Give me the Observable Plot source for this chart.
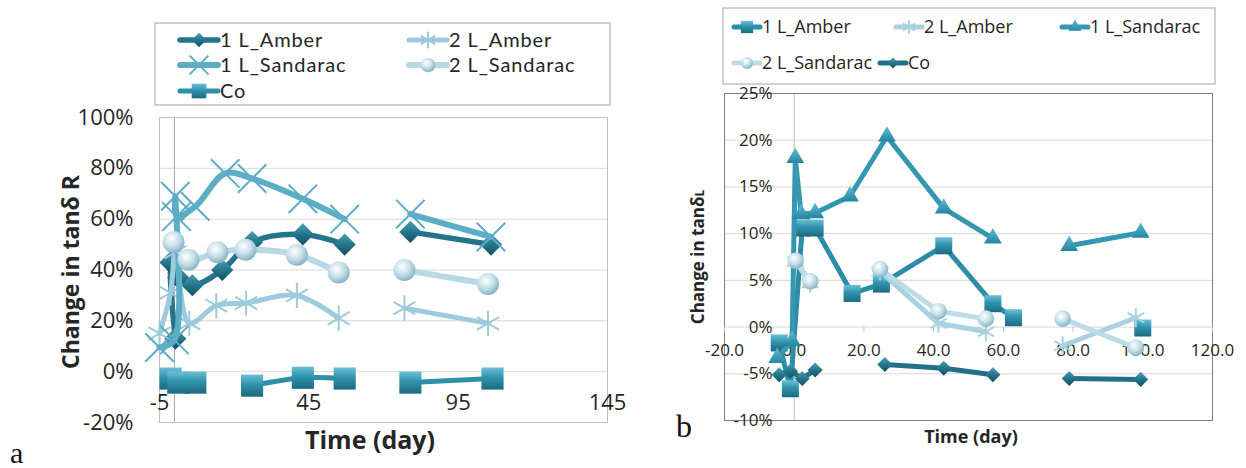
<!DOCTYPE html>
<html><head><meta charset="utf-8">
<script src="https://cdn.jsdelivr.net/npm/d3@7"></script>
<script src="https://cdn.jsdelivr.net/npm/@observablehq/plot@0.6"></script>
<style>
body{margin:0;background:#fff;}
#root{position:relative;width:1246px;height:468px;overflow:hidden;font-family:"Open Sans",sans-serif;}
#root > svg{position:absolute;}
</style></head><body>
<svg width="0" height="0" style="position:absolute">
  <defs>
    <linearGradient id="gSq" x1="0" y1="0" x2="0" y2="1">
      <stop offset="0" stop-color="#6cc0d6"/><stop offset="0.45" stop-color="#2f93ad"/><stop offset="1" stop-color="#1c6a80"/>
    </linearGradient>
    <linearGradient id="gDia" x1="0" y1="0" x2="0" y2="1">
      <stop offset="0" stop-color="#4f9fb5"/><stop offset="0.5" stop-color="#23768d"/><stop offset="1" stop-color="#134f61"/>
    </linearGradient>
    <linearGradient id="gTri" x1="0" y1="0" x2="0" y2="1">
      <stop offset="0" stop-color="#5fbcd4"/><stop offset="1" stop-color="#2584a0"/>
    </linearGradient>
    <radialGradient id="gSph" cx="0.4" cy="0.35" r="0.65">
      <stop offset="0" stop-color="#ffffff"/><stop offset="0.55" stop-color="#c6dfe9"/><stop offset="1" stop-color="#86b3c5"/>
    </radialGradient>
  </defs>
</svg>
<div id="root"></div>
<script>
// ---------- Panel a data (Time in days, change in tanδ R in %) ----------
const aXTicks = [-5, 45, 95, 145];
const aYTicks = [-20, 0, 20, 40, 60, 80, 100];
const a1LAmberDay = [0.3, -1.3, 1.3, 6, 16, 26, 43, 57, null, 79, 106];
const a1LAmberVal = [13, 43, 37, 34, 40, 51, 54, 50, null, 55, 50];
const a2LAmberDay = [-5, -1.3, 0.3, 5, 14, 24, 41, 55, null, 77, 105];
const a2LAmberVal = [15, 31, 47, 19, 26, 27, 30, 21, null, 25, 19];
const a1LSandDay = [-5, 0, 0.3, 0.7, 7, 17, 26, 43, 57, null, 79, 106];
const a1LSandVal = [9.5, 12.5, 69, 61, 65, 78, 76, 68, 60, null, 62, 53];
const a2LSandDay = [-0.3, 4.7, 14.4, 23.8, 41, 55, null, 77, 105];
const a2LSandVal = [51, 44, 47, 48, 46, 39, null, 40, 34.5];
const aCoDay = [-1.3, 1.3, 7, null, 26, 43, 57, null, 79, 106.5];
const aCoVal = [-2.7, -4.3, -4.3, null, -5.5, -2.4, -2.7, null, -4.3, -2.7];

// ---------- Panel b data (Time in days, change in tanδL in %) ----------
const bXTicks = [-20, 0, 20, 40, 60, 80, 100, 120];
const bYTicks = [-10, -5, 0, 5, 10, 15, 20, 25];
const b1LAmberDay = [-4.3, -1.1, 2.3, 6, 16.6, 25, 42.9, 57, 62.9, null, 100];
const b1LAmberVal = [-1.7, -6.6, 10.6, 10.6, 3.6, 4.6, 8.7, 2.5, 1.0, null, -0.1];
const b2LAmberDay = [0.4, 4.6, null, 24.6, 41.4, 55, null, 77, 98];
const b2LAmberVal = [7.0, 4.7, null, 6.0, 0.4, -0.5, null, -2.0, 1.0];
const b1LSandDay = [-4.9, -0.6, 0.3, 2, 6, 16, 26.6, 42.9, 57, null, 78.9, 99.4];
const b1LSandVal = [-3.3, -1.5, 18.1, 12.1, 12.2, 14, 20.4, 12.7, 9.5, null, 8.7, 10.1];
const b2LSandDay = [0.4, 4.6, null, 24.6, 41.4, 55, null, 77, 98];
const b2LSandVal = [7.1, 4.9, null, 6.2, 1.7, 0.9, null, 0.9, -2.2];
const bCoDay = [-4.3, -1.1, 2.3, 6, null, 26, 42.9, 57, null, 78.9, 99.4];
const bCoVal = [-5.1, -4.7, -5.5, -4.6, null, -4.0, -4.4, -5.1, null, -5.5, -5.6];

const seriesNames = ["1 L_Amber", "2 L_Amber", "1 L_Sandarac", "2 L_Sandarac", "Co"];

const rows = (days, vals) => days.map((d, i) => ({x: d, y: vals[i]}));

// series styles
const aStyle = [
  {data: rows(a1LAmberDay, a1LAmberVal), color: "#23758c", sw: 5.5, symbol: "diamond2", r: 10, fill: "url(#gDia)"},
  {data: rows(a2LAmberDay, a2LAmberVal), color: "#9dcbdb", sw: 5, symbol: "asterisk", r: 12, stroke: "#9dcbdb"},
  {data: rows(a1LSandDay, a1LSandVal), color: "#5caec6", sw: 6, symbol: "times", r: 13, stroke: "#5caec6"},
  {data: rows(a2LSandDay, a2LSandVal), color: "#b8d8e4", sw: 6, symbol: "circle", r: 11, fill: "url(#gSph)"},
  {data: rows(aCoDay, aCoVal), color: "#2e8fa9", sw: 5, symbol: "square", r: 12.5, fill: "url(#gSq)"}
];
const bStyle = [
  {data: rows(b1LAmberDay, b1LAmberVal), color: "#2d8ca6", sw: 5, symbol: "square", r: 9.6, fill: "url(#gSq)"},
  {data: rows(b2LAmberDay, b2LAmberVal), color: "#a9d1df", sw: 5, symbol: "asterisk", r: 9, stroke: "#a9d1df"},
  {data: rows(b1LSandDay, b1LSandVal), color: "#3597b1", sw: 5, symbol: "triangle", r: 6.6, fill: "url(#gTri)"},
  {data: rows(b2LSandDay, b2LSandVal), color: "#bddce7", sw: 5, symbol: "circle", r: 8.3, fill: "url(#gSph)"},
  {data: rows(bCoDay, bCoVal), color: "#21708a", sw: 5, symbol: "diamond2", r: 6.8, fill: "url(#gDia)"}
];

function seriesMarks(styles, curve) {
  const marks = [];
  for (const s of styles) {
    marks.push(Plot.line(s.data, {x: "x", y: "y", stroke: s.color, strokeWidth: s.sw, curve, strokeLinejoin: "round"}));
    if (s.fill) marks.push(Plot.dot(s.data, {x: "x", y: "y", symbol: s.symbol, r: s.r, fill: s.fill, stroke: "none"}));
    else marks.push(Plot.dot(s.data, {x: "x", y: "y", symbol: s.symbol, r: s.r, fill: "none", stroke: s.stroke, strokeWidth: 2}));
  }
  return marks;
}

const root = document.getElementById("root");

const plotA = Plot.plot({
  width: 640, height: 468,
  marginLeft: 159, marginRight: 33, marginTop: 117, marginBottom: 46,
  style: {fontFamily: "'Open Sans', sans-serif", fontSize: "22px", color: "#262626", background: "transparent", overflow: "visible"},
  x: {domain: [-5, 145]},
  y: {domain: [-20, 100]},
  marks: [
    Plot.gridY(aYTicks, {stroke: "#d9d9d9", strokeOpacity: 1}),
    Plot.ruleX([0], {stroke: "#a6a6a6"}),
    Plot.frame({stroke: "#bfbfbf"}),
    Plot.axisY(aYTicks, {tickSize: 0, tickPadding: 26, tickFormat: d => d + "%", label: null}),
    Plot.axisX(aXTicks, {tickSize: 0, tickPadding: 3, dy: -31, tickFormat: d => String(d), label: null}),
    ...seriesMarks(aStyle, "catmull-rom")
  ]
});
plotA.style.left = "0px"; plotA.style.top = "0px";
root.appendChild(plotA);

const plotB = Plot.plot({
  width: 606, height: 468,
  marginLeft: 84, marginRight: 34, marginTop: 93, marginBottom: 48,
  style: {fontFamily: "'Open Sans', sans-serif", fontSize: "17px", color: "#262626", background: "transparent", overflow: "visible"},
  x: {domain: [-20, 120]},
  y: {domain: [-10, 25]},
  marks: [
    Plot.gridY(bYTicks, {stroke: "#d9d9d9", strokeOpacity: 1}),
    Plot.ruleX([0], {stroke: "#bfbfbf"}),
    Plot.frame({stroke: "#7f7f7f"}),
    Plot.axisY(bYTicks, {tickSize: 0, tickPadding: 0, dx: 48, tickFormat: d => d + "%", label: null}),
    Plot.axisX(bXTicks, {tickSize: 5, tickPadding: 12, dy: -93.4, stroke: "#bfbfbf", fill: "#262626", tickFormat: d => d.toFixed(1), label: null}),
    ...seriesMarks(bStyle, "linear")
  ]
});
plotB.style.left = "640px"; plotB.style.top = "0px";
root.appendChild(plotB);

// ---------- overlay: legends, axis titles, panel letters ----------
const ov = d3.select(root).append("svg")
  .attr("width", 1246).attr("height", 468)
  .style("left", "0px").style("top", "0px").style("pointer-events", "none");

const symMap = {square: d3.symbolSquare, diamond2: d3.symbolDiamond2, asterisk: d3.symbolAsterisk, times: d3.symbolTimes, circle: d3.symbolCircle, triangle: d3.symbolTriangle};

function legend(styles, box, items, lineLen, symScale, fontSize, family, spacing) {
  ov.append("rect").attr("x", box[0]).attr("y", box[1]).attr("width", box[2] - box[0]).attr("height", box[3] - box[1])
    .attr("fill", "#fff").attr("stroke", "#b3b3b3").attr("stroke-width", 1.2);
  items.forEach((it, i) => {
    const s = styles[i];
    const g = ov.append("g");
    g.append("line").attr("x1", it[0]).attr("x2", it[0] + lineLen).attr("y1", it[1]).attr("y2", it[1])
      .attr("stroke", s.color).attr("stroke-width", s.sw).attr("stroke-linecap", "round");
    const r = s.r * symScale;
    g.append("path").attr("d", d3.symbol(symMap[s.symbol], Math.PI * r * r)())
      .attr("transform", `translate(${it[0] + lineLen / 2},${it[1]})`)
      .attr("fill", s.fill || "none").attr("stroke", s.fill ? "none" : s.stroke).attr("stroke-width", 2);
    g.append("text").attr("x", it[0] + lineLen + 2).attr("y", it[1]).attr("dy", "0.35em")
      .attr("font-size", fontSize).attr("font-family", family).attr("letter-spacing", spacing)
      .attr("fill", "#262626").text(seriesNames[i]);
  });
}

legend(aStyle, [155, 23, 610, 105],
  [[180, 40], [409, 40], [180, 65], [409, 65], [180, 91]], 38, 0.66, 20, "Lato, sans-serif", 0.9);
legend(bStyle, [723, 8, 1215, 84],
  [[734, 27], [896, 27], [1062, 27], [734, 63], [880, 63]], 26, 0.72, 18, "'Open Sans', sans-serif", 0);

// axis titles
ov.append("text").attr("transform", "translate(71,272) rotate(-90)").attr("text-anchor", "middle").attr("dy", "0.35em")
  .attr("font-weight", "bold").attr("font-size", 23).attr("fill", "#262626").text("Change in tanδ R");
ov.append("text").attr("x", 370).attr("y", 440).attr("text-anchor", "middle").attr("dy", "0.35em")
  .attr("font-weight", "bold").attr("font-size", 25).attr("fill", "#262626").text("Time (day)");

const ytb = ov.append("text").attr("transform", "translate(698,257) rotate(-90)").attr("text-anchor", "middle").attr("dy", "0.35em")
  .attr("font-weight", "bold").attr("font-size", 17).attr("fill", "#262626");
ytb.append("tspan").text("Change in tanδ");
ytb.append("tspan").attr("font-size", 12).text("L");
ov.append("text").attr("x", 971).attr("y", 437).attr("text-anchor", "middle").attr("dy", "0.35em")
  .attr("font-weight", "bold").attr("font-size", 18).attr("fill", "#262626").text("Time (day)");

ov.append("text").attr("x", 10).attr("y", 463).attr("font-family", "'Liberation Serif', serif").attr("font-size", 30).attr("fill", "#111").text("a");
ov.append("text").attr("x", 676).attr("y", 437).attr("font-family", "'Liberation Serif', serif").attr("font-size", 32).attr("fill", "#111").text("b");
</script>
</body></html>
